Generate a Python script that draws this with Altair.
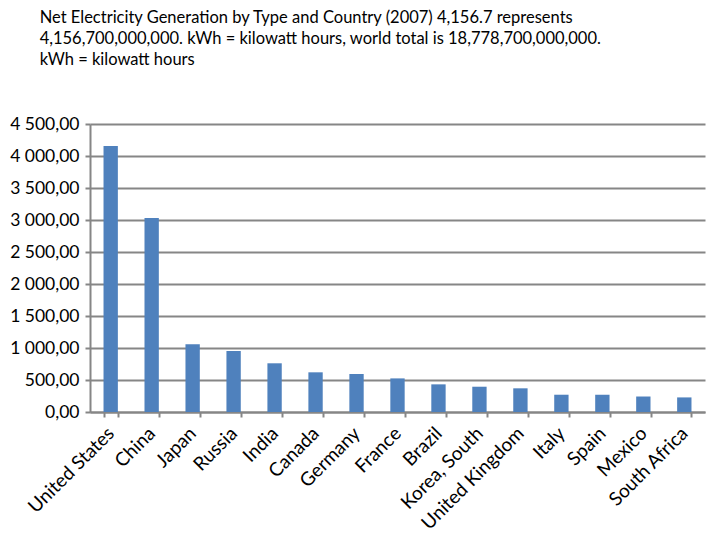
import pandas as pd
import altair as alt

countries = ['United States', 'China', 'Japan', 'Russia', 'India', 'Canada', 'Germany',
             'France', 'Brazil', 'Korea, South', 'United Kingdom', 'Italy', 'Spain',
             'Mexico', 'South Africa']
generation = [4156.7, 3030, 1060, 953, 761, 620, 594, 525, 432, 395, 370, 270, 270, 242, 228]

title_lines = [
    'Net Electricity Generation by Type and Country (2007) 4,156.7 represents',
    '4,156,700,000,000. kWh = kilowatt hours, world total is 18,778,700,000,000.',
    'kWh = kilowatt hours',
]

df = pd.DataFrame({'Country': countries, 'Total': generation})

grey = '#868686'
font = 'Lato'

chart = alt.Chart(df).mark_bar(color='#4F81BD').encode(
    x=alt.X('Country:N', sort=countries, title=None,
            scale=alt.Scale(paddingInner=0.65, paddingOuter=0.33),
            axis=alt.Axis(labelAngle=315, labelAlign='right', labelBaseline='middle',
                          labelFontSize=19, labelColor='#000000', labelFont=font,
                          labelPadding=13, tickBand='extent', tickSize=5,
                          tickColor=grey, tickWidth=2, domainColor=grey,
                          domainWidth=2, grid=False, labelOverlap=False)),
    y=alt.Y('Total:Q', title=None,
            scale=alt.Scale(domain=[0, 4500], nice=False),
            axis=alt.Axis(values=list(range(0, 4501, 500)),
                          labelExpr="replace(replace(format(datum.value, ',.2f'), ',', ' '), '.', ',')",
                          labelFontSize=17.5, labelColor='#000000', labelFont=font,
                          labelPadding=6, tickSize=5, tickColor=grey, tickWidth=2,
                          domainColor=grey, domainWidth=2,
                          grid=True, gridColor=grey, gridWidth=2)),
).properties(
    width=615,
    height=288,
    autosize=alt.AutoSizeParams(type='none'),
    padding={'left': 82, 'top': 116, 'right': 7, 'bottom': 120},
    title=alt.TitleParams(title_lines, anchor='start', dx=30, offset=47,
                          fontSize=16.5, fontWeight='normal', font=font,
                          color='#000000', lineHeight=21),
).configure_view(
    stroke=None,
)

chart.save("out.html", embed_options={"renderer": "svg", "actions": False})
